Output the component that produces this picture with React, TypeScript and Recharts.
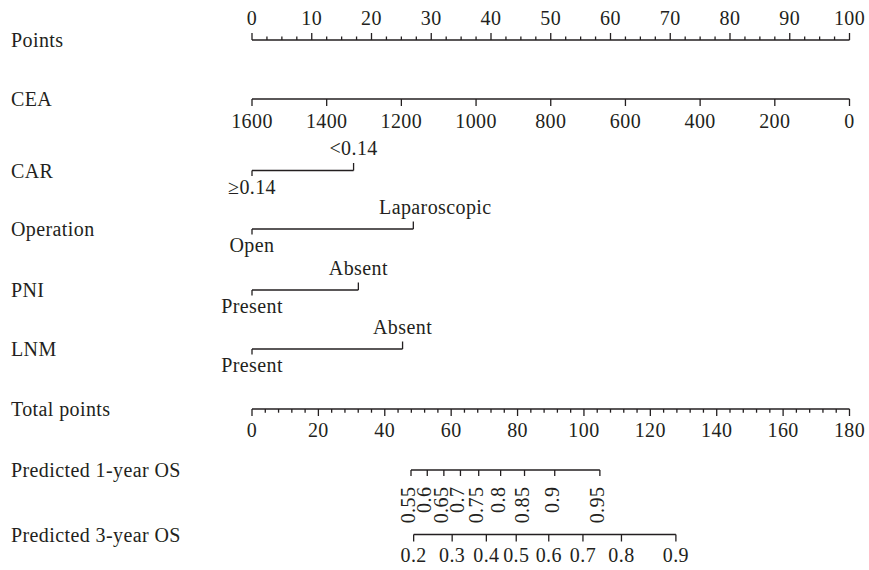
import React from 'react';
import { ComposedChart, XAxis, YAxis, ReferenceLine, ReferenceDot, Scatter } from 'recharts';

const FONT = '"Liberation Serif", "Times New Roman", serif';
const INK = '#231f20';
const FS = 20;
const LS = 0.4;

// Row names and the vertical layout slot of each row (chart pixels)
const rowNames = ['Points', 'CEA', 'CAR', 'Operation', 'PNI', 'LNM', 'Total points', 'Predicted 1-year OS', 'Predicted 3-year OS'];
const rowY = [40, 99, 170.5, 229, 290, 349, 409, 470, 534.5];

// Points scale
const pointsMajor = [0, 10, 20, 30, 40, 50, 60, 70, 80, 90, 100];
const pointsMinor = [2.5, 5, 7.5, 12.5, 15, 17.5, 22.5, 25, 27.5, 32.5, 35, 37.5, 42.5, 45, 47.5, 52.5, 55, 57.5, 62.5, 65, 67.5, 72.5, 75, 77.5, 82.5, 85, 87.5, 92.5, 95, 97.5];

// CEA (continuous, reversed)
const ceaTicks = [1600, 1400, 1200, 1000, 800, 600, 400, 200, 0];

// Categorical predictors: [reference level, other level] and their points
const carLevels = ['≥0.14', '<0.14'];
const carPoints = [0, 17.0];
const operationLevels = ['Open', 'Laparoscopic'];
const operationPoints = [0, 27.0];
const pniLevels = ['Present', 'Absent'];
const pniPoints = [0, 17.8];
const lnmLevels = ['Present', 'Absent'];
const lnmPoints = [0, 25.2];

// Total points scale
const totalMajor = [0, 20, 40, 60, 80, 100, 120, 140, 160, 180];
const totalMinor = [4, 8, 12, 16, 24, 28, 32, 36, 44, 48, 52, 56, 64, 68, 72, 76, 84, 88, 92, 96, 104, 108, 112, 116, 124, 128, 132, 136, 144, 148, 152, 156, 164, 168, 172, 176];

// Predicted survival: labels and their position on the total points scale
const os1Labels = ['0.55', '0.6', '0.65', '0.7', '0.75', '0.8', '0.85', '0.9', '0.95'];
const os1Total = [47.9, 52.8, 57.8, 62.8, 68.3, 74.9, 82.1, 91.2, 104.8];
const os3Labels = ['0.2', '0.3', '0.4', '0.5', '0.6', '0.7', '0.8', '0.9'];
const os3Total = [48.7, 60.3, 70.6, 79.6, 89.4, 99.7, 111.3, 127.7];

const SW = 1.3;

function seg(key: string, xId: string, x1: number, y1: number, x2: number, y2: number) {
  return (
    <ReferenceLine
      key={key}
      xAxisId={xId}
      yAxisId="rows"
      segment={[{ x: x1, y: y1 }, { x: x2, y: y2 }]}
      stroke={INK}
      strokeWidth={SW}
      ifOverflow="visible"
    />
  );
}

function txt(key: string, xId: string, x: number, y: number, text: string, opts: any = {}) {
  const { dx = 0, dy = 0, anchor = 'middle', rotate = false } = opts;
  return (
    <ReferenceDot
      key={key}
      xAxisId={xId}
      yAxisId="rows"
      x={x}
      y={y}
      r={0}
      ifOverflow="visible"
      shape={(p: any) => {
        const tx = p.cx + dx;
        const ty = p.cy + dy;
        return (
          <text
            x={tx}
            y={ty}
            textAnchor={anchor}
            fontFamily={FONT}
            fontSize={FS}
            letterSpacing={LS}
            fill={INK}
            transform={rotate ? `rotate(-90, ${tx}, ${ty})` : undefined}
          >
            {text}
          </text>
        );
      }}
    />
  );
}

function categorical(prefix: string, y: number, levels: string[], pts: number[], hiDx = 0) {
  const out: any[] = [];
  out.push(seg(prefix + '-line', 'pts', pts[0], y, pts[1], y));
  out.push(seg(prefix + '-t0', 'pts', pts[0], y, pts[0], y + 5.5));
  out.push(seg(prefix + '-t1', 'pts', pts[1], y, pts[1], y - 7.5));
  out.push(txt(prefix + '-l0', 'pts', pts[0], y, levels[0], { dy: 23 }));
  out.push(txt(prefix + '-l1', 'pts', pts[1], y, levels[1], { dy: -15.5, dx: hiDx }));
  return out;
}

const RowTick = (props: any) => {
  const { y, payload } = props;
  const i = rowY.indexOf(payload.value);
  return (
    <text x={11} y={y + 7} textAnchor="start" fontFamily={FONT} fontSize={FS} letterSpacing={LS} fill={INK}>
      {rowNames[i]}
    </text>
  );
};

const ptsAnchor = pointsMajor.map((v) => ({ p: v, r: rowY[0] }));
const ceaAnchor = ceaTicks.map((v) => ({ c: v, r: rowY[1] }));
const totAnchor = totalMajor.map((v) => ({ t: v, r: rowY[6] }));

export default function App() {
  const [yP, yCea, yCar, yOp, yPni, yLnm, yTot, yOs1, yOs3] = rowY;
  const els: any[] = [];

  // Points axis
  els.push(seg('p-line', 'pts', 0, yP, 100, yP));
  pointsMajor.forEach((v) => {
    els.push(seg('p-M' + v, 'pts', v, yP, v, yP - 7));
    els.push(txt('p-L' + v, 'pts', v, yP, String(v), { dy: -15 }));
  });
  pointsMinor.forEach((v) => els.push(seg('p-m' + v, 'pts', v, yP, v, yP - 3.5)));

  // CEA axis
  els.push(seg('c-line', 'cea', 1600, yCea, 0, yCea));
  ceaTicks.forEach((v) => {
    els.push(seg('c-M' + v, 'cea', v, yCea, v, yCea + 7));
    els.push(txt('c-L' + v, 'cea', v, yCea, String(v), { dy: 29 }));
  });

  els.push(...categorical('car', yCar, carLevels, carPoints));
  els.push(...categorical('op', yOp, operationLevels, operationPoints, 22));
  els.push(...categorical('pni', yPni, pniLevels, pniPoints));
  els.push(...categorical('lnm', yLnm, lnmLevels, lnmPoints));

  // Total points
  els.push(seg('t-line', 'tot', 0, yTot, 180, yTot));
  totalMajor.forEach((v) => {
    els.push(seg('t-M' + v, 'tot', v, yTot, v, yTot + 7));
    els.push(txt('t-L' + v, 'tot', v, yTot, String(v), { dy: 27.7 }));
  });
  totalMinor.forEach((v) => els.push(seg('t-m' + v, 'tot', v, yTot, v, yTot + 3.7)));

  // Predicted 1-year OS
  els.push(seg('o1-line', 'tot', os1Total[0], yOs1, os1Total[os1Total.length - 1], yOs1));
  os1Total.forEach((v, i) => {
    els.push(seg('o1-M' + i, 'tot', v, yOs1, v, yOs1 + 6));
    els.push(txt('o1-L' + i, 'tot', v, yOs1, os1Labels[i], { dx: 4, dy: 16.7, anchor: 'end', rotate: true }));
  });

  // Predicted 3-year OS
  els.push(seg('o3-line', 'tot', os3Total[0], yOs3, os3Total[os3Total.length - 1], yOs3));
  os3Total.forEach((v, i) => {
    els.push(seg('o3-M' + i, 'tot', v, yOs3, v, yOs3 + 7));
    els.push(txt('o3-L' + i, 'tot', v, yOs3, os3Labels[i], { dy: 27 }));
  });

  return (
    <div style={{ position: 'absolute', left: 0, top: 0, width: 869, height: 570, background: '#fff' }}>
      <ComposedChart width={869} height={570} margin={{ top: 0, right: 19.5, bottom: 0, left: 0 }}>
        <XAxis xAxisId="pts" dataKey="p" type="number" domain={[0, 100]} hide allowDataOverflow />
        <XAxis xAxisId="cea" dataKey="c" type="number" domain={[0, 1600]} reversed hide allowDataOverflow />
        <XAxis xAxisId="tot" dataKey="t" type="number" domain={[0, 180]} hide allowDataOverflow />
        <YAxis
          yAxisId="rows"
          dataKey="r"
          type="number"
          domain={[0, 570]}
          reversed
          allowDataOverflow
          ticks={rowY}
          interval={0}
          width={252}
          axisLine={false}
          tickLine={false}
          tick={<RowTick />}
        />
        <Scatter xAxisId="pts" yAxisId="rows" data={ptsAnchor} dataKey="r" fill="none" shape={() => null} isAnimationActive={false} />
        <Scatter xAxisId="cea" yAxisId="rows" data={ceaAnchor} dataKey="r" fill="none" shape={() => null} isAnimationActive={false} />
        <Scatter xAxisId="tot" yAxisId="rows" data={totAnchor} dataKey="r" fill="none" shape={() => null} isAnimationActive={false} />
        {els}
      </ComposedChart>
    </div>
  );
}
